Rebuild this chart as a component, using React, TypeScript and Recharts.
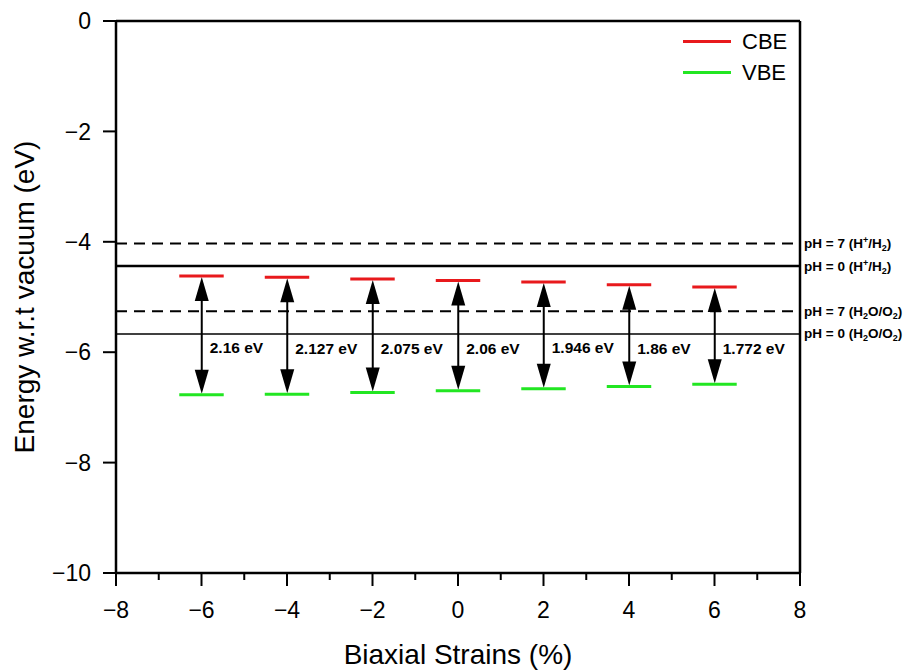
import { ComposedChart, Bar, XAxis, YAxis, ReferenceLine, Legend } from "recharts";

const strains = [-6, -4, -2, 0, 2, 4, 6];
const cbe = [-4.62, -4.64, -4.675, -4.7, -4.73, -4.78, -4.82];
const vbe = [-6.77, -6.76, -6.73, -6.7, -6.66, -6.62, -6.58];
const gapLabels = ["2.16 eV", "2.127 eV", "2.075 eV", "2.06 eV", "1.946 eV", "1.86 eV", "1.772 eV"];

const xTicks = [-8, -7, -6, -5, -4, -3, -2, -1, 0, 1, 2, 3, 4, 5, 6, 7, 8];
const yTicks = [0, -2, -4, -6, -8, -10];

// redox potentials (value, pH, couple)
const redoxValues = [-4.03, -4.44, -5.26, -5.67];
const redoxPh = ["7", "0", "7", "0"];
const redoxCouple = ["H", "H", "O", "O"];

const legendItems = [
  { name: "CBE", color: "#e8191c" },
  { name: "VBE", color: "#22e622" },
];

const FONT = "'Liberation Sans', Arial, sans-serif";
const levelHalfWidth = 0.52;

const data = strains.map((s, i) => ({
  strain: s,
  range: [vbe[i], cbe[i]],
  label: gapLabels[i],
}));

const minus = (v: number) => String(v).replace("-", "\u2212");

const XTick = (props: any) => {
  const { x, y, payload } = props;
  const major = payload.value % 2 === 0;
  const axisY = y - 13 - 16;
  return (
    <g>
      <line x1={x} y1={axisY} x2={x} y2={axisY + (major ? 13 : 7)} stroke="#000" strokeWidth={2} />
      {major && (
        <text x={x} y={y + 16} textAnchor="middle" fontSize={23} fontFamily={FONT} fill="#000">
          {minus(payload.value)}
        </text>
      )}
    </g>
  );
};

const GapArrow = (props: any) => {
  const { x, y, width, height, payload } = props;
  const cx = x + width / 2;
  const top = Math.min(y, y + height) + 1;
  const bottom = Math.max(y, y + height) - 1;
  const head = 24;
  const half = 7;
  return (
    <g>
      <line x1={cx} y1={top + head - 2} x2={cx} y2={bottom - head + 2} stroke="#000" strokeWidth={2} />
      <polygon points={`${cx},${top} ${cx - half},${top + head} ${cx + half},${top + head}`} fill="#000" />
      <polygon points={`${cx},${bottom} ${cx - half},${bottom - head} ${cx + half},${bottom - head}`} fill="#000" />
      <text x={cx + 8} y={(top + bottom) / 2 + 18} fontSize={15.5} fontWeight="bold" fontFamily={FONT} fill="#000">
        {payload.label}
      </text>
    </g>
  );
};

const RedoxLabel = ({ viewBox, ph, couple }: any) => {
  const x = viewBox.x + viewBox.width + 4;
  const y = viewBox.y + 4.5;
  return (
    <text x={x} y={y} fontSize={13.5} fontWeight="bold" fontFamily={FONT} fill="#000">
      <tspan>{`pH = ${ph} (H`}</tspan>
      {couple === "H" ? (
        <>
          <tspan dy={-5} fontSize={9}>+</tspan>
          <tspan dy={5}>/H</tspan>
          <tspan dy={3} fontSize={9}>2</tspan>
          <tspan dy={-3}>)</tspan>
        </>
      ) : (
        <>
          <tspan dy={3} fontSize={9}>2</tspan>
          <tspan dy={-3}>O/O</tspan>
          <tspan dy={3} fontSize={9}>2</tspan>
          <tspan dy={-3}>)</tspan>
        </>
      )}
    </text>
  );
};

const LegendBox = () => (
  <div style={{ fontFamily: FONT, fontSize: 22 }}>
    {legendItems.map((it) => (
      <div key={it.name} style={{ display: "flex", alignItems: "center", height: 31 }}>
        <span style={{ display: "inline-block", width: 48, height: 3, background: it.color }} />
        <span style={{ marginLeft: 11, color: "#000" }}>{it.name}</span>
      </div>
    ))}
  </div>
);

export default function App() {
  return (
    <div style={{ position: "absolute", left: 0, top: 0, width: 910, height: 672, background: "#fff" }}>
      <ComposedChart
        width={910}
        height={672}
        data={data}
        margin={{ top: 21, right: 110, bottom: 39, left: 0 }}
      >
        <XAxis
          dataKey="strain"
          type="number"
          domain={[-8, 8]}
          ticks={xTicks}
          interval={0}
          height={60}
          tickSize={13}
          tickMargin={16}
          tickLine={false}
          tick={<XTick />}
          axisLine={{ stroke: "#000", strokeWidth: 2.5 }}
          label={(p: any) => (
            <text
              x={p.viewBox.x + p.viewBox.width / 2}
              y={p.viewBox.y + 91}
              textAnchor="middle"
              fontSize={28}
              fontFamily={FONT}
              fill="#000"
            >
              Biaxial Strains (%)
            </text>
          )}
        />
        <YAxis
          type="number"
          domain={[-10, 0]}
          ticks={yTicks}
          width={116}
          tickSize={13}
          tickMargin={12}
          tickFormatter={minus}
          tick={{ fontSize: 23, fontFamily: FONT, fill: "#000" }}
          tickLine={{ stroke: "#000", strokeWidth: 2 }}
          axisLine={{ stroke: "#000", strokeWidth: 2.5 }}
          label={(p: any) => (
            <text
              x={24}
              y={p.viewBox.y + p.viewBox.height / 2}
              transform={`rotate(-90, 24, ${p.viewBox.y + p.viewBox.height / 2})`}
              textAnchor="middle"
              dominantBaseline="central"
              fontSize={28}
              fontFamily={FONT}
              fill="#000"
            >
              Energy w.r.t vacuum (eV)
            </text>
          )}
        />

        {/* frame: top and right edges */}
        <ReferenceLine y={0} stroke="#000" strokeWidth={2.5} ifOverflow="visible" />
        <ReferenceLine x={8} stroke="#000" strokeWidth={2.5} ifOverflow="visible" />

        {redoxValues.map((v, i) => (
          <ReferenceLine
            key={`redox-${i}`}
            y={v}
            stroke="#000"
            strokeWidth={redoxPh[i] === "7" ? 2 : i === 1 ? 2.5 : 1.5}
            strokeDasharray={redoxPh[i] === "7" ? "11 7" : undefined}
            label={(p: any) => <RedoxLabel viewBox={p.viewBox} ph={redoxPh[i]} couple={redoxCouple[i]} />}
          />
        ))}

        {strains.map((s, i) => (
          <ReferenceLine
            key={`cbe-${i}`}
            segment={[{ x: s - levelHalfWidth, y: cbe[i] }, { x: s + levelHalfWidth, y: cbe[i] }]}
            stroke={legendItems[0].color}
            strokeWidth={3}
          />
        ))}
        {strains.map((s, i) => (
          <ReferenceLine
            key={`vbe-${i}`}
            segment={[{ x: s - levelHalfWidth, y: vbe[i] }, { x: s + levelHalfWidth, y: vbe[i] }]}
            stroke={legendItems[1].color}
            strokeWidth={3}
          />
        ))}

        <Bar dataKey="range" barSize={4} fill="#000" shape={<GapArrow />} isAnimationActive={false} />

        <Legend
          layout="vertical"
          align="center"
          verticalAlign="middle"
          content={<LegendBox />}
          wrapperStyle={{ left: 683, top: 26, width: "auto", height: "auto" }}
        />
      </ComposedChart>
    </div>
  );
}
